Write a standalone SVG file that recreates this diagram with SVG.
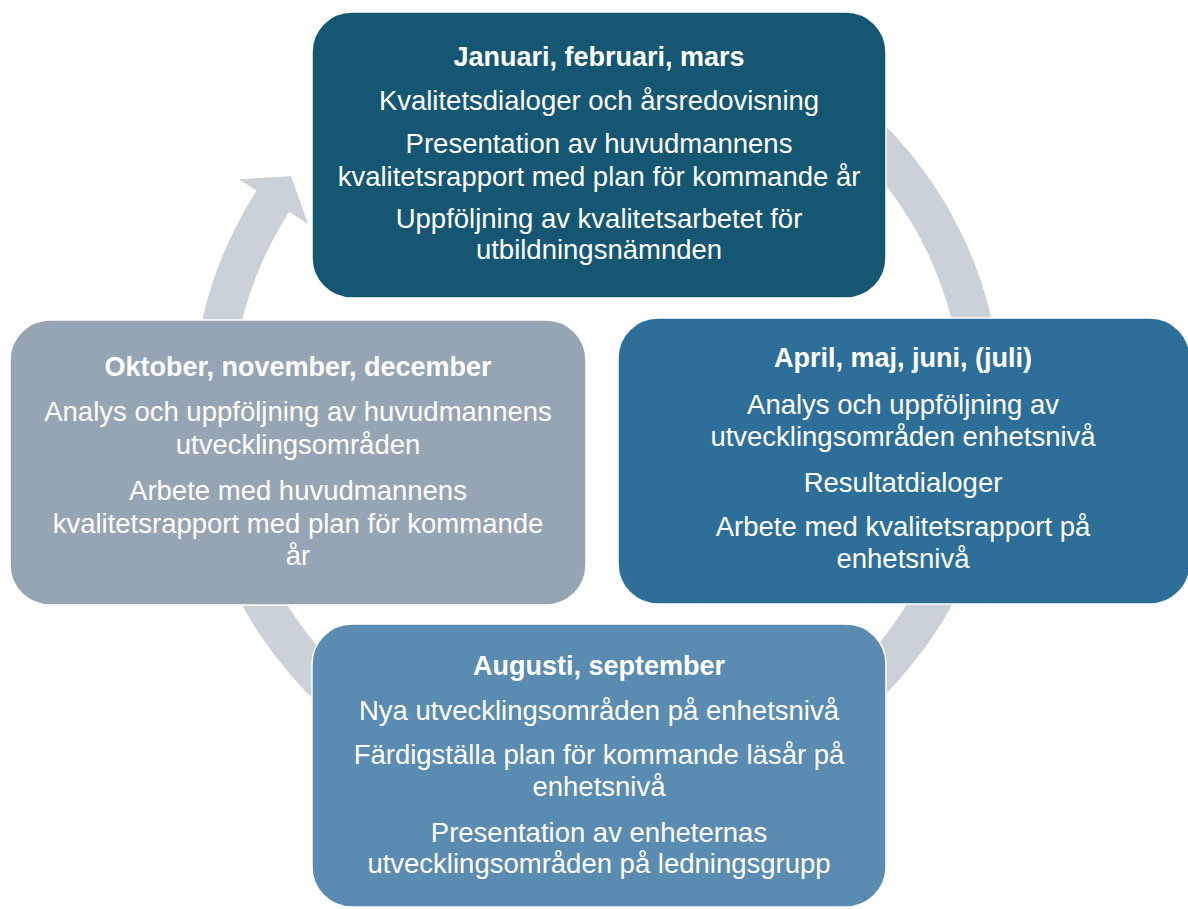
<svg xmlns="http://www.w3.org/2000/svg" width="1188" height="909" viewBox="0 0 1188 909">
<style>
.box{stroke:#ffffff;stroke-width:1.5}
.t{font-family:"Liberation Sans",Arial,sans-serif;font-size:27.5px;fill:#ffffff;text-anchor:middle}
.h{font-weight:bold;font-size:27px}
.ring{fill:#cbd1d8}
</style>
<rect width="1188" height="909" fill="#ffffff"/>
<g id="connectors">
<path class="ring" d="M 799.5 59.3 A 405 405 0 1 1 256.6 190.6 L 238.9 179.2 L 291.2 176.2 L 307.8 223.7 L 289.3 211.7 A 366 366 0 1 0 780 93 Z"/>
</g>
<g id="node-q1">
<rect class="box" x="312" y="12" width="574" height="286" rx="40" fill="#155673"/>
<text class="t h" x="599" y="66">Januari, februari, mars</text>
<text class="t" x="599" y="110">Kvalitetsdialoger och årsredovisning</text>
<text class="t" x="599" y="153">Presentation av huvudmannens</text>
<text class="t" x="599" y="186">kvalitetsrapport med plan för kommande år</text>
<text class="t" x="599" y="228">Uppföljning av kvalitetsarbetet för</text>
<text class="t" x="599" y="259">utbildningsnämnden</text>
</g>
<g id="node-q2">
<rect class="box" x="618" y="318" width="572" height="286" rx="40" fill="#2e6f99"/>
<text class="t h" x="903" y="367">April, maj, juni, (juli)</text>
<text class="t" x="903" y="414">Analys och uppföljning av</text>
<text class="t" x="903" y="446">utvecklingsområden enhetsnivå</text>
<text class="t" x="903" y="492">Resultatdialoger</text>
<text class="t" x="903" y="536">Arbete med kvalitetsrapport på</text>
<text class="t" x="903" y="568">enhetsnivå</text>
</g>
<g id="node-q3">
<rect class="box" x="312" y="624" width="574" height="283" rx="40" fill="#5a8bb1"/>
<text class="t h" x="599" y="675">Augusti, september</text>
<text class="t" x="599" y="720">Nya utvecklingsområden på enhetsnivå</text>
<text class="t" x="599" y="764">Färdigställa plan för kommande läsår på</text>
<text class="t" x="599" y="796">enhetsnivå</text>
<text class="t" x="599" y="842">Presentation av enheternas</text>
<text class="t" x="599" y="873">utvecklingsområden på ledningsgrupp</text>
</g>
<g id="node-q4">
<rect class="box" x="10" y="320" width="576" height="285" rx="40" fill="#96a5b4"/>
<text class="t h" x="298" y="376">Oktober, november, december</text>
<text class="t" x="298" y="421">Analys och uppföljning av huvudmannens</text>
<text class="t" x="298" y="454">utvecklingsområden</text>
<text class="t" x="298" y="500">Arbete med huvudmannens</text>
<text class="t" x="298" y="533">kvalitetsrapport med plan för kommande</text>
<text class="t" x="298" y="565">år</text>
</g>
</svg>
